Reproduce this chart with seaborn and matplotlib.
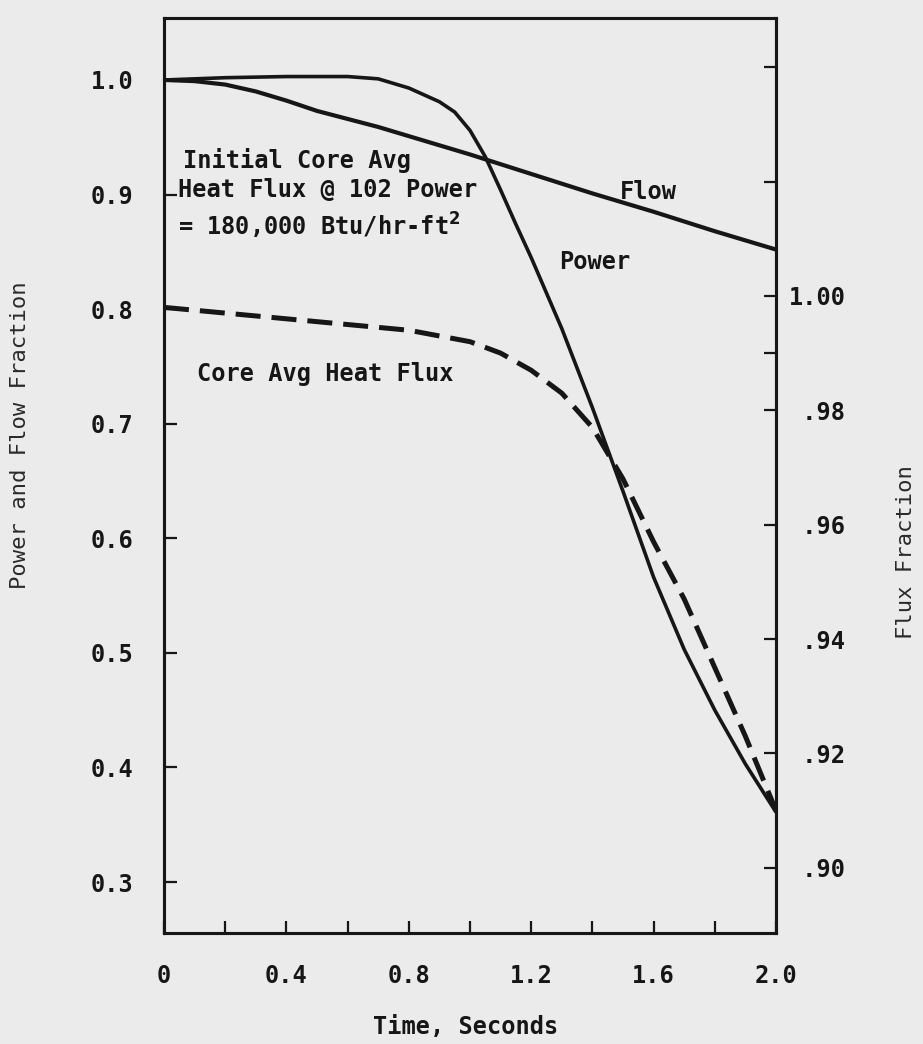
import matplotlib
matplotlib.use("Agg")
import matplotlib.pyplot as plt
import seaborn as sns

# Flow fraction vs time (left axis)
time_flow = [0.0, 0.1, 0.2, 0.3, 0.4, 0.5, 0.6, 0.7, 0.8, 0.9, 1.0, 1.2, 1.4, 1.6, 1.8, 2.0]
flow = [1.000, 0.999, 0.996, 0.990, 0.982, 0.973, 0.966, 0.959, 0.951, 0.943, 0.935,
        0.918, 0.901, 0.885, 0.868, 0.852]

# Power fraction vs time (left axis)
time_power = [0.0, 0.2, 0.4, 0.6, 0.7, 0.8, 0.9, 0.95, 1.0, 1.05, 1.1, 1.15, 1.2, 1.3,
              1.4, 1.5, 1.6, 1.7, 1.8, 1.9, 2.0]
power = [1.000, 1.002, 1.003, 1.003, 1.001, 0.993, 0.981, 0.972, 0.956, 0.933, 0.904,
         0.874, 0.845, 0.783, 0.714, 0.641, 0.566, 0.503, 0.450, 0.403, 0.361]

# Core average heat flux fraction vs time (right axis)
time_flux = [0.0, 0.2, 0.4, 0.6, 0.8, 1.0, 1.1, 1.2, 1.3, 1.4, 1.5, 1.6, 1.7, 1.8, 1.9, 2.0]
heat_flux = [0.998, 0.997, 0.996, 0.995, 0.994, 0.992, 0.990, 0.987, 0.983, 0.977, 0.968,
             0.957, 0.947, 0.935, 0.923, 0.910]

x_ticks = [0.0, 0.2, 0.4, 0.6, 0.8, 1.0, 1.2, 1.4, 1.6, 1.8, 2.0]
x_tick_labels = ["0", "", "0.4", "", "0.8", "", "1.2", "", "1.6", "", "2.0"]
left_ticks = [0.3, 0.4, 0.5, 0.6, 0.7, 0.8, 0.9, 1.0]
left_tick_labels = ["0.3", "0.4", "0.5", "0.6", "0.7", "0.8", "0.9", "1.0"]
right_ticks = [0.90, 0.92, 0.94, 0.96, 0.98, 0.99, 1.00, 1.02, 1.04]
right_tick_labels = [" .90", " .92", " .94", " .96", " .98", "", "1.00", "", ""]

bg = "#ebebeb"
ink = "#161616"

sns.set_theme(style="white")
plt.rcParams["font.family"] = ["DejaVu Sans Mono", "DejaVu Sans"]
plt.rcParams["font.weight"] = "bold"
plt.rcParams["mathtext.fontset"] = "dejavusans"

fig = plt.figure(figsize=(9.23, 10.44), dpi=100, facecolor=bg)
W, H = 923, 1044
x0, x1, y0, y1 = 164, 776, 18, 933
ax = fig.add_axes([x0 / W, 1 - y1 / H, (x1 - x0) / W, (y1 - y0) / H])
ax.set_facecolor(bg)

sns.lineplot(x=time_flow, y=flow, ax=ax, color=ink, linewidth=3.0,
             estimator=None, sort=False)
sns.lineplot(x=time_power, y=power, ax=ax, color=ink, linewidth=2.6,
             estimator=None, sort=False)

ax.set_xlim(0, 2.0)
ax.set_ylim(0.2555, 1.0541)

ax2 = ax.twinx()
sns.lineplot(x=time_flux, y=heat_flux, ax=ax2, color=ink, linewidth=3.6,
             linestyle=(0, (5, 2.2)), estimator=None, sort=False)
ax2.set_ylim(0.8886, 1.0486)

for a in (ax, ax2):
    for s in a.spines.values():
        s.set_visible(True)
        s.set_color(ink)
        s.set_linewidth(2.2)

ax.set_xticks(x_ticks)
ax.set_xticklabels(x_tick_labels)
ax.set_yticks(left_ticks)
ax.set_yticklabels(left_tick_labels)
ax2.set_yticks(right_ticks)
ax2.set_yticklabels(right_tick_labels)

ax.tick_params(axis="x", direction="in", length=9, width=1.6, pad=22,
               labelsize=17, colors=ink, bottom=True, top=False)
ax.tick_params(axis="y", direction="in", length=9, width=1.6, pad=22,
               labelsize=17, colors=ink, left=True, right=False)
ax2.tick_params(axis="y", direction="in", length=9, width=1.6, pad=9,
                labelsize=17, colors=ink, right=True, left=False)

ax.set_xlabel("Time, Seconds", fontsize=17, fontweight="bold", color=ink)
ax.xaxis.set_label_coords((466 - x0) / (x1 - x0), (y1 - 1027) / (y1 - y0))
ax.xaxis.label.set_va("center")
ax.set_ylabel("Power and Flow Fraction", fontsize=16, fontweight="normal", color="#2a2a2a")
ax.yaxis.set_label_coords((20 - x0) / (x1 - x0), (y1 - 435) / (y1 - y0))
ax.yaxis.label.set_va("center")
ax2.set_ylabel("Flux Fraction", fontsize=16, fontweight="normal", color="#2a2a2a")
ax2.yaxis.set_label_coords((906 - x0) / (x1 - x0), (y1 - 552) / (y1 - y0))
ax2.yaxis.label.set_va("center")
ax2.yaxis.label.set_rotation(90)

txt = dict(fontsize=17, fontweight="bold", color=ink, va="center", ha="left")
ax.text(0.062, 0.930, "Initial Core Avg", **txt)
ax.text(0.046, 0.904, "Heat Flux @ 102 Power", **txt)
ax.text(0.046, 0.873, "= 180,000 Btu/hr-ft$^2$", **txt)
ax.text(1.490, 0.902, "Flow", **txt)
ax.text(1.291, 0.841, "Power", **txt)
ax.text(0.108, 0.743, "Core Avg Heat Flux", **txt)

fig.savefig("out.png", dpi=100, facecolor=bg)
